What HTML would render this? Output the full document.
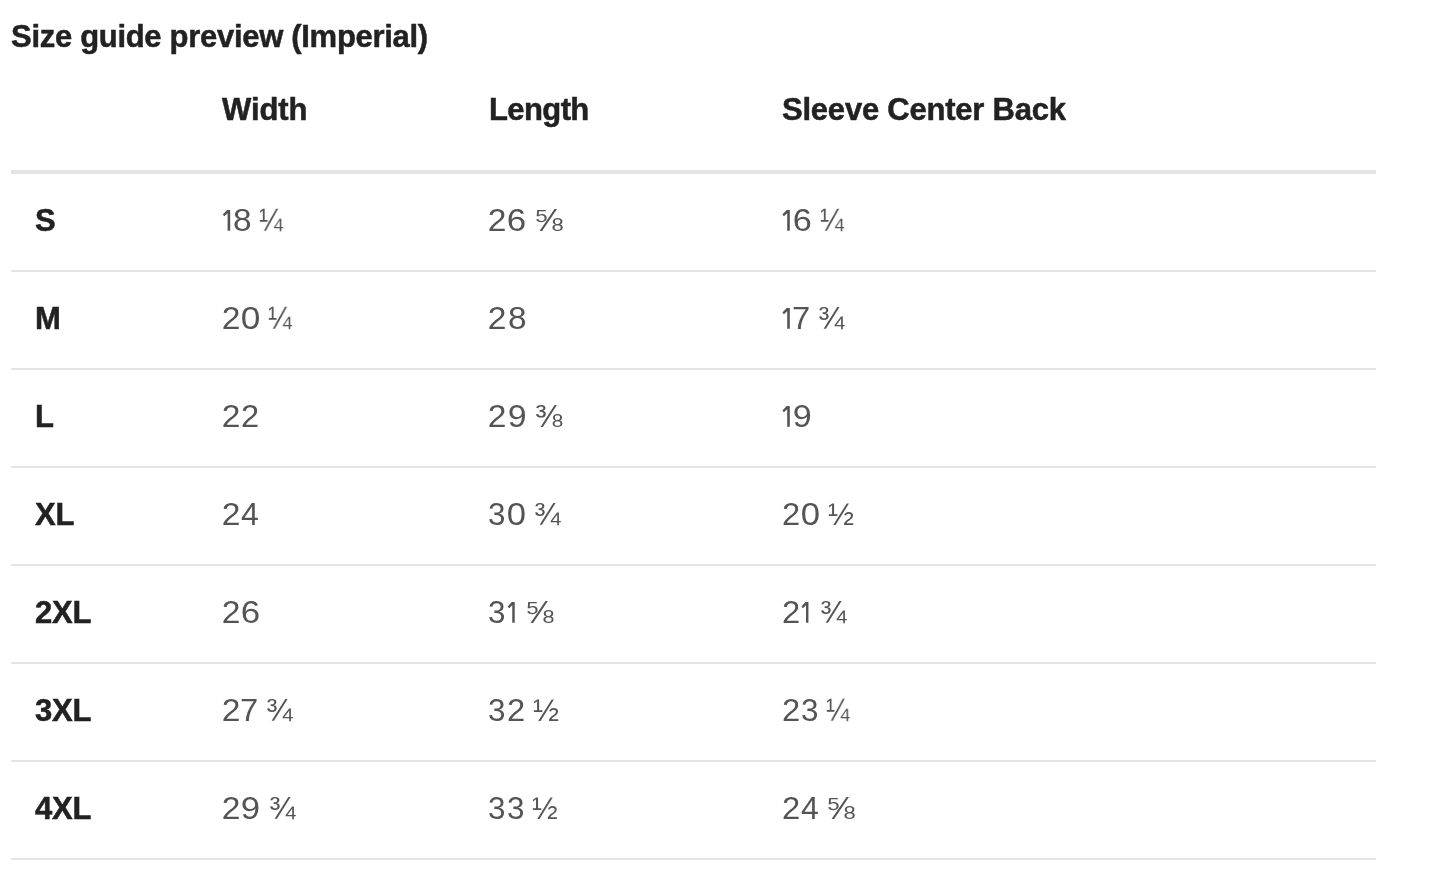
<!DOCTYPE html>
<html><head><meta charset="utf-8"><title>Size guide preview (Imperial)</title>
<style>
html,body{margin:0;padding:0;background:#fff;}
body{width:1450px;height:884px;position:relative;overflow:hidden;font-family:"Liberation Sans",sans-serif;}
.t,.g{position:absolute;white-space:nowrap;line-height:1;will-change:transform;}
.b{font-weight:700;color:#222;font-size:31px;letter-spacing:-0.22px;-webkit-text-stroke:0.5px #222;}
.g{font-weight:400;color:#545454;font-size:31px;}
.one{position:absolute;fill:#545454;will-change:transform;}
.ln{position:absolute;left:11px;width:1365px;background:#e4e4e4;}
</style></head><body>

<div class="t b" style="left:11px;top:21px;letter-spacing:-0.3px">Size guide preview (Imperial)</div>
<div class="t b" style="left:222px;top:94px;letter-spacing:-0.1px">Width</div>
<div class="t b" style="left:489px;top:94px;letter-spacing:-0.6px">Length</div>
<div class="t b" style="left:782px;top:94px">Sleeve Center Back</div>
<div class="ln" style="top:170px;height:4px"></div>
<div class="t b" style="left:35px;top:205px">S</div>
<svg class="one" style="left:222px;top:208px" width="12" height="25" viewBox="0 0 12 25"><path d="M5.10 1.90 L8.20 1.90 L8.20 22.80 L5.60 22.80 L5.60 5.30 L2.30 8.20 L0.80 6.50Z"/></svg>
<span class="g" style="left:233.05px;top:205px;transform:scaleX(1.079);transform-origin:1.35px 0">8</span>
<span class="g" style="left:259.15px;top:205px;transform:scaleX(0.916);transform-origin:0.85px 0">¼</span>
<span class="g" style="left:488.34px;top:205px;transform:scaleX(1.083);transform-origin:1.56px 0">2</span>
<span class="g" style="left:507.33px;top:205px;transform:scaleX(1.126);transform-origin:1.57px 0">6</span>
<span class="g" style="left:533.56px;top:205px;transform:scaleX(1.118);transform-origin:2.24px 0">⅝</span>
<svg class="one" style="left:782px;top:208px" width="12" height="25" viewBox="0 0 12 25"><path d="M4.70 1.90 L7.80 1.90 L7.80 22.80 L5.20 22.80 L5.20 5.30 L1.90 8.20 L0.40 6.50Z"/></svg>
<span class="g" style="left:792.83px;top:205px;transform:scaleX(1.105);transform-origin:1.57px 0">6</span>
<span class="g" style="left:819.65px;top:205px;transform:scaleX(0.916);transform-origin:0.85px 0">¼</span>
<div class="ln" style="top:270px;height:2px"></div>
<div class="t b" style="left:35px;top:303px">M</div>
<span class="g" style="left:222.14px;top:303px;transform:scaleX(1.083);transform-origin:1.56px 0">2</span>
<span class="g" style="left:241.09px;top:303px;transform:scaleX(1.140);transform-origin:1.21px 0">0</span>
<span class="g" style="left:268.35px;top:303px;transform:scaleX(0.912);transform-origin:0.85px 0">¼</span>
<span class="g" style="left:488.34px;top:303px;transform:scaleX(1.083);transform-origin:1.56px 0">2</span>
<span class="g" style="left:507.65px;top:303px;transform:scaleX(1.079);transform-origin:1.35px 0">8</span>
<svg class="one" style="left:782px;top:306px" width="12" height="25" viewBox="0 0 12 25"><path d="M4.70 1.90 L7.80 1.90 L7.80 22.80 L5.20 22.80 L5.20 5.30 L1.90 8.20 L0.40 6.50Z"/></svg>
<span class="g" style="left:792.01px;top:303px;transform:scaleX(1.057);transform-origin:1.59px 0">7</span>
<span class="g" style="left:817.80px;top:303px;transform:scaleX(1.021);transform-origin:1.10px 0">¾</span>
<div class="ln" style="top:368px;height:2px"></div>
<div class="t b" style="left:35px;top:401px">L</div>
<span class="g" style="left:222.14px;top:401px;transform:scaleX(1.083);transform-origin:1.56px 0">2</span>
<span class="g" style="left:241.14px;top:401px;transform:scaleX(1.055);transform-origin:1.56px 0">2</span>
<span class="g" style="left:488.34px;top:401px;transform:scaleX(1.083);transform-origin:1.56px 0">2</span>
<span class="g" style="left:507.95px;top:401px;transform:scaleX(1.096);transform-origin:1.45px 0">9</span>
<span class="g" style="left:534.98px;top:401px;transform:scaleX(1.055);transform-origin:0.92px 0">⅜</span>
<svg class="one" style="left:782px;top:404px" width="12" height="25" viewBox="0 0 12 25"><path d="M4.70 1.90 L7.80 1.90 L7.80 22.80 L5.20 22.80 L5.20 5.30 L1.90 8.20 L0.40 6.50Z"/></svg>
<span class="g" style="left:792.95px;top:401px;transform:scaleX(1.103);transform-origin:1.45px 0">9</span>
<div class="ln" style="top:466px;height:2px"></div>
<div class="t b" style="left:35px;top:499px">XL</div>
<span class="g" style="left:222.14px;top:499px;transform:scaleX(1.083);transform-origin:1.56px 0">2</span>
<span class="g" style="left:241.19px;top:499px;transform:scaleX(1.031);transform-origin:0.71px 0">4</span>
<span class="g" style="left:488.32px;top:499px;transform:scaleX(1.014);transform-origin:1.18px 0">3</span>
<span class="g" style="left:506.89px;top:499px;transform:scaleX(1.120);transform-origin:1.21px 0">0</span>
<span class="g" style="left:534.30px;top:499px;transform:scaleX(1.025);transform-origin:1.10px 0">¾</span>
<span class="g" style="left:781.74px;top:499px;transform:scaleX(1.055);transform-origin:1.56px 0">2</span>
<span class="g" style="left:801.09px;top:499px;transform:scaleX(1.120);transform-origin:1.21px 0">0</span>
<span class="g" style="left:827.95px;top:499px;transform:scaleX(1.009);transform-origin:0.85px 0">½</span>
<div class="ln" style="top:564px;height:2px"></div>
<div class="t b" style="left:35px;top:597px">2XL</div>
<span class="g" style="left:222.14px;top:597px;transform:scaleX(1.083);transform-origin:1.56px 0">2</span>
<span class="g" style="left:240.73px;top:597px;transform:scaleX(1.126);transform-origin:1.57px 0">6</span>
<span class="g" style="left:488.32px;top:597px;transform:scaleX(1.014);transform-origin:1.18px 0">3</span>
<svg class="one" style="left:507px;top:600px" width="12" height="25" viewBox="0 0 12 25"><path d="M4.78 1.90 L7.73 1.90 L7.73 22.80 L5.26 22.80 L5.26 5.30 L2.12 8.20 L0.70 6.50Z"/></svg>
<span class="g" style="left:524.56px;top:597px;transform:scaleX(1.114);transform-origin:2.24px 0">⅝</span>
<span class="g" style="left:781.74px;top:597px;transform:scaleX(1.055);transform-origin:1.56px 0">2</span>
<svg class="one" style="left:801px;top:600px" width="12" height="25" viewBox="0 0 12 25"><path d="M4.53 1.90 L7.43 1.90 L7.43 22.80 L5.00 22.80 L5.00 5.30 L1.91 8.20 L0.50 6.50Z"/></svg>
<span class="g" style="left:819.80px;top:597px;transform:scaleX(1.025);transform-origin:1.10px 0">¾</span>
<div class="ln" style="top:662px;height:2px"></div>
<div class="t b" style="left:35px;top:695px">3XL</div>
<span class="g" style="left:222.14px;top:695px;transform:scaleX(1.083);transform-origin:1.56px 0">2</span>
<span class="g" style="left:240.31px;top:695px;transform:scaleX(1.057);transform-origin:1.59px 0">7</span>
<span class="g" style="left:266.00px;top:695px;transform:scaleX(1.025);transform-origin:1.10px 0">¾</span>
<span class="g" style="left:488.32px;top:695px;transform:scaleX(1.014);transform-origin:1.18px 0">3</span>
<span class="g" style="left:506.54px;top:695px;transform:scaleX(1.055);transform-origin:1.56px 0">2</span>
<span class="g" style="left:532.95px;top:695px;transform:scaleX(1.009);transform-origin:0.85px 0">½</span>
<span class="g" style="left:781.74px;top:695px;transform:scaleX(1.055);transform-origin:1.56px 0">2</span>
<span class="g" style="left:800.72px;top:695px;transform:scaleX(1.014);transform-origin:1.18px 0">3</span>
<span class="g" style="left:826.25px;top:695px;transform:scaleX(0.900);transform-origin:0.85px 0">¼</span>
<div class="ln" style="top:760px;height:2px"></div>
<div class="t b" style="left:35px;top:793px">4XL</div>
<span class="g" style="left:222.14px;top:793px;transform:scaleX(1.083);transform-origin:1.56px 0">2</span>
<span class="g" style="left:240.85px;top:793px;transform:scaleX(1.124);transform-origin:1.45px 0">9</span>
<span class="g" style="left:268.50px;top:793px;transform:scaleX(1.025);transform-origin:1.10px 0">¾</span>
<span class="g" style="left:488.32px;top:793px;transform:scaleX(1.014);transform-origin:1.18px 0">3</span>
<span class="g" style="left:506.52px;top:793px;transform:scaleX(1.014);transform-origin:1.18px 0">3</span>
<span class="g" style="left:532.15px;top:793px;transform:scaleX(0.993);transform-origin:0.85px 0">½</span>
<span class="g" style="left:781.74px;top:793px;transform:scaleX(1.055);transform-origin:1.56px 0">2</span>
<span class="g" style="left:800.79px;top:793px;transform:scaleX(1.031);transform-origin:0.71px 0">4</span>
<span class="g" style="left:825.76px;top:793px;transform:scaleX(1.118);transform-origin:2.24px 0">⅝</span>
<div class="ln" style="top:858px;height:2px"></div>
</body></html>
